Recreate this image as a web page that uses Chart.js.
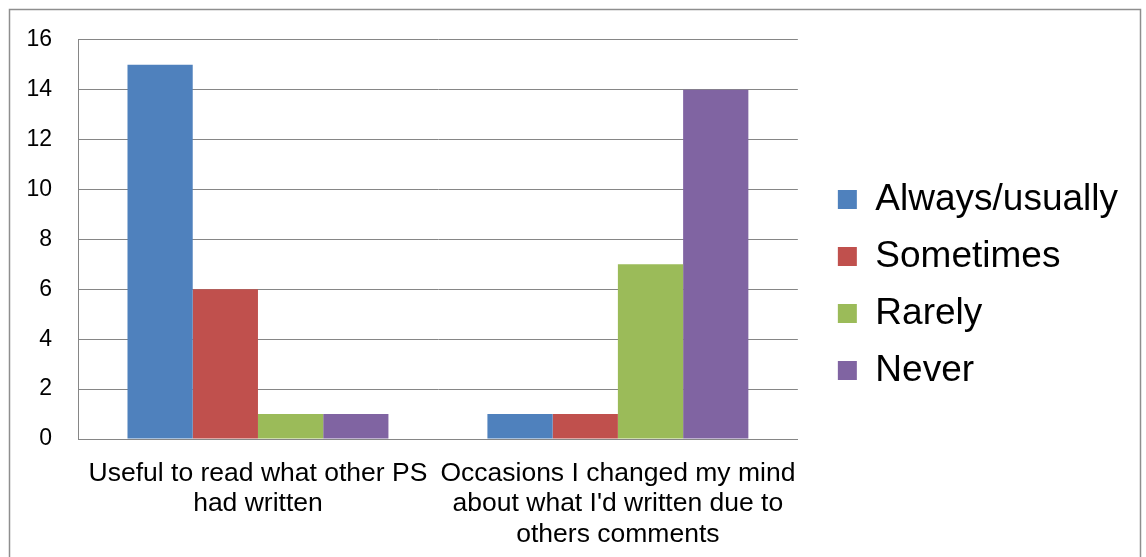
<!DOCTYPE html>
<html>
<head>
<meta charset="utf-8">
<script src="https://cdn.jsdelivr.net/npm/chart.js@4/dist/chart.umd.min.js"></script>
<style>
  html, body { margin: 0; padding: 0; background: #fff; }
  canvas { display: block; }
</style>
</head>
<body>
<canvas id="surveyChart" width="1146" height="557"></canvas>
<script>
// categories (x axis labels, split into lines as in the original)
const categories = [
    ['Useful to read what other PS', 'had written'],
    ['Occasions I changed my mind', "about what I'd written due to", 'others comments']
];

const seriesNames = ['Always/usually', 'Sometimes', 'Rarely', 'Never'];
const seriesColors = ['#4F81BD', '#C0504D', '#9BBB59', '#8064A2'];

const alwaysUsually = [15, 1];
const sometimes = [6, 1];
const rarely = [1, 7];
const never = [1, 14];

const yTicks = { min: 0, max: 16, step: 2 };

const seriesValues = [alwaysUsually, sometimes, rarely, never];

const datasets = seriesNames.map((name, i) => ({
    label: name,
    data: seriesValues[i],
    backgroundColor: seriesColors[i],
    borderWidth: 0,
    categoryPercentage: 0.725,
    barPercentage: 1
}));

// grey frame round the whole chart, like the office chart border
const frame = {
    id: 'frame',
    beforeDraw(chart) {
        const c = chart.ctx;
        c.save();
        c.strokeStyle = '#8e8e8e';
        c.lineWidth = 1.5;
        c.strokeRect(9.5, 9.5, chart.width - 15, chart.height + 20);
        c.restore();
    }
};

const gridGrey = '#868686';

const ctx = document.getElementById('surveyChart').getContext('2d');

new Chart(ctx, {
    type: 'bar',
    data: {
        labels: categories,
        datasets: datasets
    },
    plugins: [frame],
    options: {
        responsive: false,
        animation: false,
        layout: {
            padding: { left: 10, right: 18, top: 24, bottom: 11 }
        },
        plugins: {
            legend: {
                position: 'right',
                maxWidth: 400,
                labels: {
                    boxWidth: 19,
                    boxHeight: 19,
                    padding: 20,
                    color: '#000',
                    font: { size: 37, family: 'Liberation Sans' }
                }
            },
            tooltip: { enabled: false }
        },
        scales: {
            x: {
                grid: { display: false },
                border: { display: true, color: gridGrey, width: 1 },
                ticks: {
                    color: '#000',
                    maxRotation: 0,
                    autoSkip: false,
                    padding: 11,
                    font: { size: 26.5, family: 'Liberation Sans', lineHeight: 1.15 }
                },
                afterFit: function (scale) {
                    scale.height = 107;
                }
            },
            y: {
                min: yTicks.min,
                max: yTicks.max,
                grid: {
                    color: gridGrey,
                    lineWidth: 1,
                    drawTicks: false
                },
                border: { display: true, color: gridGrey, width: 1 },
                ticks: {
                    stepSize: yTicks.step,
                    color: '#000',
                    padding: 26,
                    font: { size: 23, family: 'Liberation Sans' }
                },
                afterFit: function (scale) {
                    scale.width = 68;
                }
            },
            // empty right axis: only keeps a gap between plot and legend
            gap: {
                type: 'linear',
                position: 'right',
                display: true,
                grid: { display: false },
                border: { display: false },
                ticks: { display: false },
                afterFit: function (scale) {
                    scale.width = 20;
                }
            }
        }
    }
});
</script>
</body>
</html>
